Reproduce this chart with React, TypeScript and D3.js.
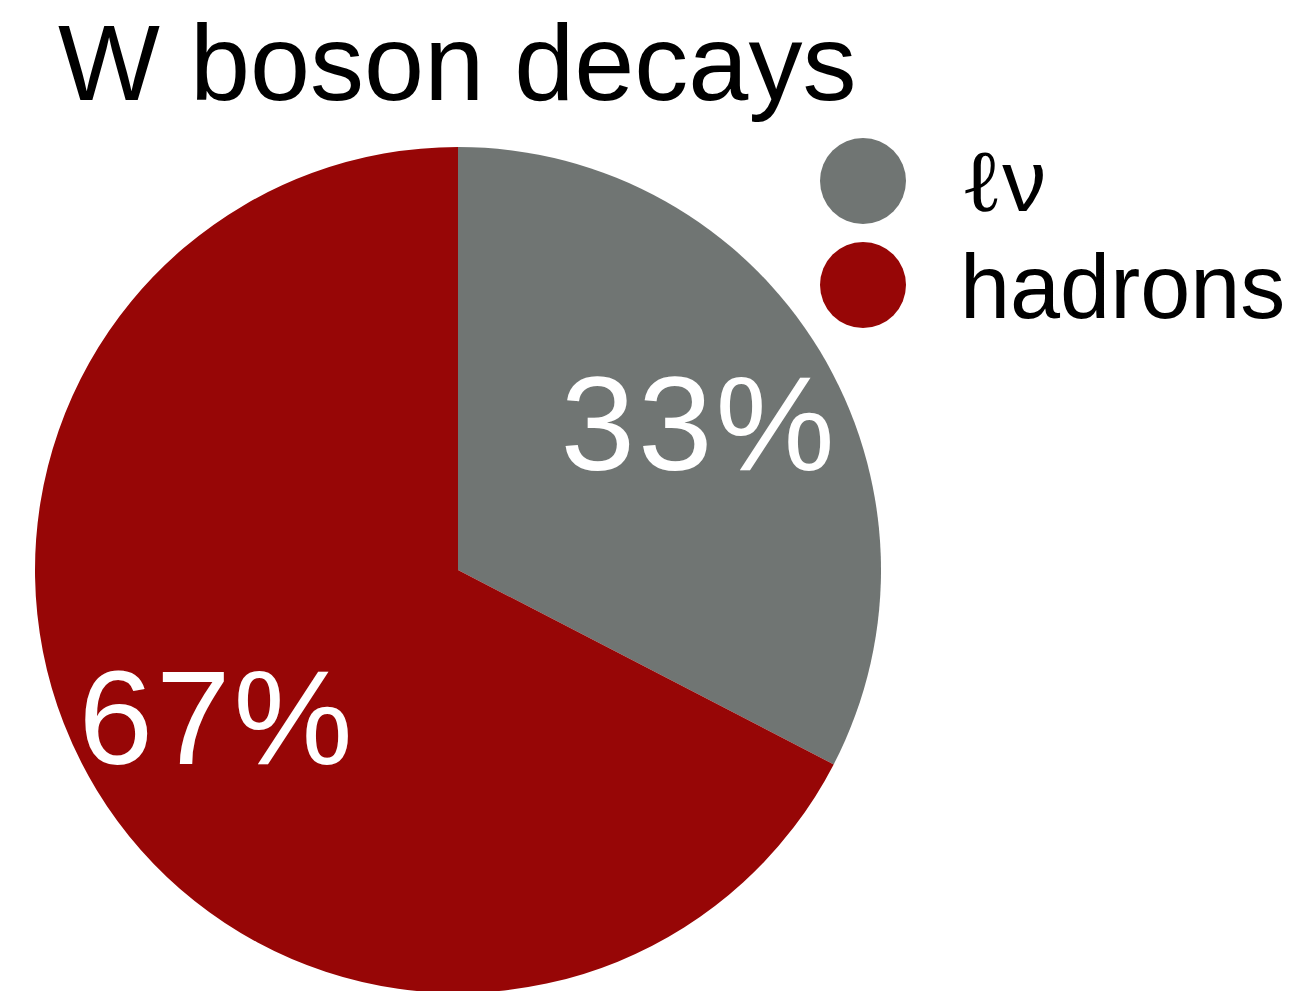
import React from "react";
import * as d3 from "d3";

const categories = ["ℓν", "hadrons"];
const values = [32.6, 67.4];
const labels = ["33%", "67%"];
const colors = ["#707573", "#970606"];

const W = 1302;
const H = 991;

export default function App() {
  const cx = 458;
  const cy = 570;
  const R = 423;
  const pie = d3.pie<number>().sort(null).value((d) => d);
  const arcs = pie(values);
  const arcGen = d3.arc<d3.PieArcDatum<number>>().innerRadius(0).outerRadius(R);
  const labelArc = d3.arc<d3.PieArcDatum<number>>().innerRadius(R * 0.667).outerRadius(R * 0.667);
  const font = "'Liberation Sans', Arial, Helvetica, sans-serif";
  return (
    <svg width={W} height={H} style={{ position: "absolute", left: 0, top: 0 }} xmlns="http://www.w3.org/2000/svg">
      <rect width={W} height={H} fill="#fff" />
      <text x={58} y={100} fontFamily={font} fontSize={108} fill="#000">W boson decays</text>
      <g transform={`translate(${cx},${cy})`}>
        {arcs.map((a, i) => (
          <path key={i} d={arcGen(a) || ""} fill={colors[i]} />
        ))}
        {arcs.map((a, i) => {
          const [x, y] = labelArc.centroid(a);
          return (
            <text key={"l" + i} x={x} y={y + 47} textAnchor="middle" fontFamily={font} fontSize={134} letterSpacing={3} fill="#fff">
              {labels[i]}
            </text>
          );
        })}
      </g>
      {categories.map((c, i) => (
        <g key={c} transform={`translate(863,${181 + i * 104})`}>
          <circle r={43} fill={colors[i]} />
          {i === 0 ? (
            <text x={97} y={30} fontSize={88} fill="#000">
              <tspan fontFamily="'DejaVu Serif', serif">{c.charAt(0)}</tspan>
              <tspan fontFamily={font}>{c.slice(1)}</tspan>
            </text>
          ) : (
            <text x={97} y={33} fontFamily={font} fontSize={90} fill="#000">
              {c}
            </text>
          )}
        </g>
      ))}
    </svg>
  );
}
